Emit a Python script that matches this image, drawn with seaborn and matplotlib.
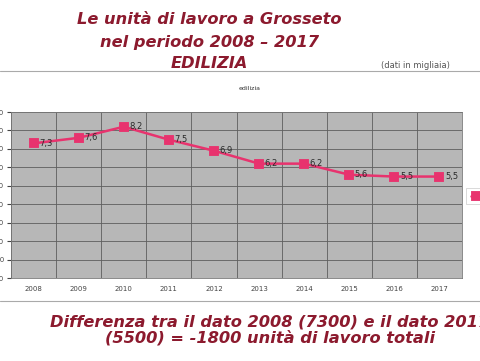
import matplotlib.pyplot as plt
import seaborn as sns
import pandas as pd

# data (dati in migliaia)
years = ["2008", "2009", "2010", "2011", "2012", "2013", "2014", "2015", "2016", "2017"]
values = [7.3, 7.6, 8.2, 7.5, 6.9, 6.2, 6.2, 5.6, 5.5, 5.5]
value_labels = ["7,3", "7,6", "8,2", "7,5", "6,9", "6,2", "6,2", "5,6", "5,5", "5,5"]
y_ticks = [0, 1, 2, 3, 4, 5, 6, 7, 8, 9]
y_tick_labels = ["0,0", "1,0", "2,0", "3,0", "4,0", "5,0", "6,0", "7,0", "8,0", "9,0"]

title_lines = ["Le unità di lavoro a Grosseto", "nel periodo 2008 – 2017", "EDILIZIA"]
bottom_lines = ["Differenza tra il dato 2008 (7300) e il dato 2017",
                "(5500) = -1800 unità di lavoro totali"]

sns.set_style("white")
plt.rcParams["font.family"] = ["DejaVu Sans"]

W, H = 481, 361
fig = plt.figure(figsize=(W / 100, H / 100), dpi=100)
fig.patch.set_facecolor("white")

# plot area in pixel coords: left 11, right 462, top 112, bottom 278
ax = fig.add_axes([11 / W, 1 - 278 / H, (462 - 11) / W, (278 - 112) / H])
ax.set_facecolor("#b7b7b7")

df = pd.DataFrame({"anno": years, "valore": values})
line_color = "#e8336e"
sns.pointplot(data=df, x="anno", y="valore", color=line_color, marker="s",
              markersize=6, linewidth=1.8, ax=ax, label="edilizia")

for i, (v, lab) in enumerate(zip(values, value_labels)):
    ax.annotate(lab, (i, v), xytext=(4, 0), textcoords="offset points",
                fontsize=6, color="#2a2a2a", va="center", ha="left")

ax.set_xlim(-0.5, len(years) - 0.5)
ax.set_ylim(0, 9)
ax.set_yticks(y_ticks)
ax.set_yticklabels(y_tick_labels)
ax.set_xticks(range(len(years)))
ax.set_xticklabels(years)
ax.set_xticks([i - 0.5 for i in range(len(years) + 1)], minor=True)
ax.set_xlabel("")
ax.set_ylabel("")
ax.grid(False)
ax.yaxis.grid(True, color="#5e5e5e", linewidth=0.6)
ax.xaxis.grid(True, which="minor", color="#5e5e5e", linewidth=0.6)
ax.tick_params(axis="x", which="major", length=0, labelsize=5, colors="#444444", pad=6)
ax.tick_params(axis="x", which="minor", length=3, color="#555555")
ax.tick_params(axis="y", length=3, labelsize=5, colors="#444444", pad=2, left=True)
for s in ax.spines.values():
    s.set_color("#777777")
    s.set_linewidth(0.6)

leg = ax.legend(loc="center left", bbox_to_anchor=(466 / W, 1 - 196 / H),
                bbox_transform=fig.transFigure, fontsize=5, frameon=True,
                handlelength=1.6, handletextpad=0.4, borderpad=0.7,
                borderaxespad=0, fancybox=False)
leg.get_frame().set_edgecolor("#c8c8c8")
leg.get_frame().set_linewidth(0.6)

# slide decorations
title_color = "#8c1a2e"
for txt, y in zip(title_lines, [20, 43, 63]):
    fig.text(209 / W, 1 - y / H, txt, ha="center", va="center", fontsize=11.7,
             fontweight="bold", fontstyle="italic", color=title_color)
fig.text(415 / W, 1 - 66 / H, "(dati in migliaia)", ha="center", va="center",
         fontsize=6, color="#555555")
fig.add_artist(plt.Line2D([0, 1], [1 - 71 / H, 1 - 71 / H], color="#aaaaaa", linewidth=0.8))
fig.text(250 / W, 1 - 89 / H, "edilizia", ha="center", va="center", fontsize=4.5, color="#333333")
fig.add_artist(plt.Line2D([0, 1], [1 - 301 / H, 1 - 301 / H], color="#aaaaaa", linewidth=0.8))
for txt, y in zip(bottom_lines, [322, 338]):
    fig.text(270 / W, 1 - y / H, txt, ha="center", va="center", fontsize=11.7,
             fontweight="bold", fontstyle="italic", color=title_color)

fig.savefig("out.png", dpi=100)
